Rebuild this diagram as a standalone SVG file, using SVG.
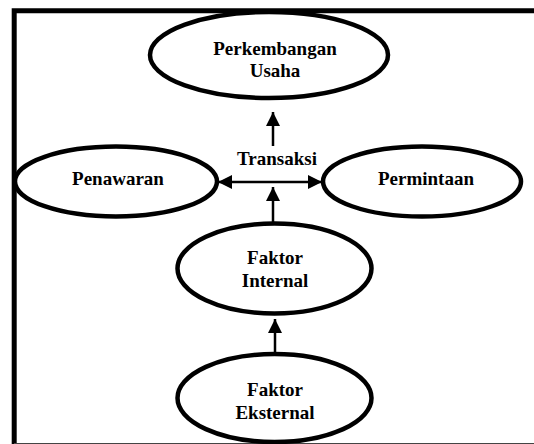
<svg xmlns="http://www.w3.org/2000/svg" width="534" height="444" viewBox="0 0 534 444">
<style>
.n{fill:#fff;stroke:#000;stroke-width:4.5}
text{font-family:'Liberation Serif','Times New Roman',serif;font-weight:700;font-size:19px;fill:#000;text-anchor:middle}
.c{stroke:#000;stroke-width:2.5;fill:none}
</style>
<defs>
<marker id="ah" viewBox="0 0 10 10" refX="10" refY="5" markerWidth="14" markerHeight="15" markerUnits="userSpaceOnUse" orient="auto">
<path d="M0,0 L10,5 L0,10 z" fill="#000"/>
</marker>
</defs>
<rect width="534" height="444" fill="#fff"/>
<g id="frame">
<path d="M14.2,444 V10.8 H534" fill="none" stroke="#000" stroke-width="5"/>
<line x1="14" y1="443.5" x2="534" y2="443.5" stroke="#444" stroke-width="1"/>
</g>
<g id="perkembangan">
<ellipse class="n" cx="269" cy="55" rx="119" ry="43"/>
<text x="275" y="55">Perkembangan</text>
<text x="275" y="77">Usaha</text>
</g>
<g id="penawaran">
<ellipse class="n" cx="116" cy="181.5" rx="101" ry="35"/>
<text x="118" y="185">Penawaran</text>
</g>
<g id="permintaan">
<ellipse class="n" cx="422" cy="181.5" rx="99" ry="35"/>
<text x="426" y="185">Permintaan</text>
</g>
<g id="transaksi">
<text x="277" y="165">Transaksi</text>
</g>
<g id="internal">
<ellipse class="n" cx="274.5" cy="268.5" rx="97" ry="45"/>
<text x="275" y="264">Faktor</text>
<text x="275" y="287">Internal</text>
</g>
<g id="eksternal">
<ellipse class="n" cx="274.5" cy="398" rx="97" ry="44"/>
<text x="275" y="396">Faktor</text>
<text x="275" y="419">Eksternal</text>
</g>
<g id="connectors">
<line class="c" x1="273" y1="146" x2="273" y2="112" marker-end="url(#ah)"/>
<line class="c" x1="260" y1="182" x2="218" y2="182" marker-end="url(#ah)"/>
<line class="c" x1="260" y1="182" x2="322" y2="182" marker-end="url(#ah)"/>
<line class="c" x1="273" y1="222" x2="273" y2="187" marker-end="url(#ah)"/>
<line class="c" x1="275" y1="352" x2="275" y2="319" marker-end="url(#ah)"/>
</g>
</svg>
